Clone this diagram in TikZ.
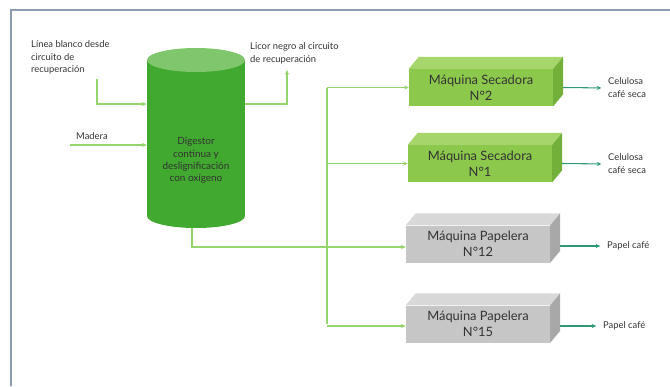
\documentclass[tikz,border=0pt]{standalone}
\usepackage{fontspec}
\setmainfont{Lato}
\usetikzlibrary{arrows.meta,positioning}

\definecolor{marco}{HTML}{8D9BB0}
\definecolor{verdecil}{HTML}{41A92F}
\definecolor{verdetapa}{HTML}{80C66D}
\definecolor{verdecaja}{HTML}{8CC84B}
\definecolor{verdetop}{HTML}{A5D56B}
\definecolor{verdelado}{HTML}{72B03A}
\definecolor{griscaja}{HTML}{C6C6C6}
\definecolor{gristop}{HTML}{D8D8D8}
\definecolor{grislado}{HTML}{A8A8A8}
\definecolor{linea}{HTML}{96D46E}
\definecolor{salida}{HTML}{2F9A72}
\definecolor{texto}{HTML}{333333}

\tikzset{
  etiqueta/.style={font=\fontsize{8}{11}\selectfont, text=texto, align=left, inner sep=0pt},
  caja/.style={minimum width=4.32cm, minimum height=1.11cm, inner sep=0pt, align=center,
    font=\fontsize{11}{13.6}\selectfont, text=texto},
  conector/.style={draw=linea, line width=0.9pt},
  flecha/.style={conector, -{Stealth[length=4pt,width=3.5pt]}},
  flechasal/.style={draw=salida, line width=0.9pt, -{Stealth[length=4pt,width=3.5pt]}, shorten >=0.2cm}
}

\begin{document}
\begin{tikzpicture}[x=0.03cm, y=-0.03cm]
        \useasboundingbox (0,0) rectangle (670,386);

        % Frame
        \draw[marco, line width=1.5pt] (11,386) -- (11,10) -- (670,10);

        % Digestor (cylinder)
        \fill[verdecil] (147,60) rectangle (245,216);
        \fill[verdecil] (196,216) ellipse [x radius=49, y radius=12];
        \fill[verdetapa] (196,60) ellipse [x radius=49, y radius=12];
        \node[minimum width=2.94cm, minimum height=5.4cm, inner sep=0pt, align=center,
              font=\fontsize{8.5}{10.4}\selectfont, text=black!80] (digestor) at (196,138)
              {\\[1.2cm]Digestor\\continua y\\deslignificación\\con oxígeno};
        \coordinate (fondo) at (192,228);

        % Inputs and output of the digestor
        \node[etiqueta, anchor=north west] (blanco) at (31,40)
              {Línea blanco desde\\circuito de\\recuperación};
        \node[etiqueta, anchor=west] (madera) at (76,136) {Madera};
        \node[etiqueta, anchor=north west] (licor) at (250,42)
              {Licor negro al circuito\\de recuperación};
        \coordinate (blanco0) at (97,79);
        \coordinate (madera0) at (70,145);
        \coordinate (licor0) at (287,70);

        \draw[flecha] (blanco0) |- (digestor.west |- 0,104);
        \draw[flecha] (madera0) -- (digestor.west |- madera0);
        \draw[flecha] (digestor.east |- 0,104) -| (licor0);

        % Machines (front faces)
        \node[caja, fill=verdecaja] (sec2) at (481,87.5) {Máquina Secadora\\N°2};
        \node[caja, fill=verdecaja] (sec1) at (480,163.5) {Máquina Secadora\\N°1};
        \node[caja, fill=griscaja] (pap12) at (478,244) {Máquina Papelera\\N°12};
        \node[caja, fill=griscaja] (pap15) at (478,324) {Máquina Papelera\\N°15};

        % Top and side faces
        \foreach \m/\ct/\cl in {sec2/verdetop/verdelado, sec1/verdetop/verdelado,
                                pap12/gristop/grislado, pap15/gristop/grislado} {
            \fill[\ct] (\m.north west) -- ([shift={(10,-12)}]\m.north west)
                -- ([shift={(10,-12)}]\m.north east) -- (\m.north east) -- cycle;
            \fill[\cl] (\m.north east) -- ([shift={(10,-12)}]\m.north east)
                -- ([shift={(10,-12)}]\m.south east) -- (\m.south east) -- cycle;
        }

        % Distribution line
        \coordinate (bus) at (327,247);
        \draw[conector] (fondo) |- (bus);
        \draw[conector] (bus |- sec2.west) -- (bus |- pap15.west);
        \draw[flecha] (bus |- sec2.west) -- (sec2.west);
        \draw[flecha] (bus |- sec1.west) -- (sec1.west);
        \draw[flecha] (bus |- 0,247) -- (pap12.west |- 0,247);
        \draw[flecha] (bus |- 0,326) -- (pap15.west |- 0,326);

        % Products
        \node[etiqueta, anchor=west] (cel2) at (608,88) {Celulosa\\café seca};
        \node[etiqueta, anchor=west] (cel1) at (608,164) {Celulosa\\café seca};
        \node[etiqueta, anchor=west] (pape12) at (607,246) {Papel café};
        \node[etiqueta, anchor=west] (pape15) at (603,326) {Papel café};

        \draw[flechasal] ([shift={(10,0)}]sec2.east) -- (cel2.west);
        \draw[flechasal] ([shift={(10,0)}]sec1.east) -- (cel1.west);
        \draw[flechasal] ([shift={(10,2)}]pap12.east) -- (pape12.west);
        \draw[flechasal] ([shift={(10,2)}]pap15.east) -- (pape15.west);
    \end{tikzpicture}
\end{document}
